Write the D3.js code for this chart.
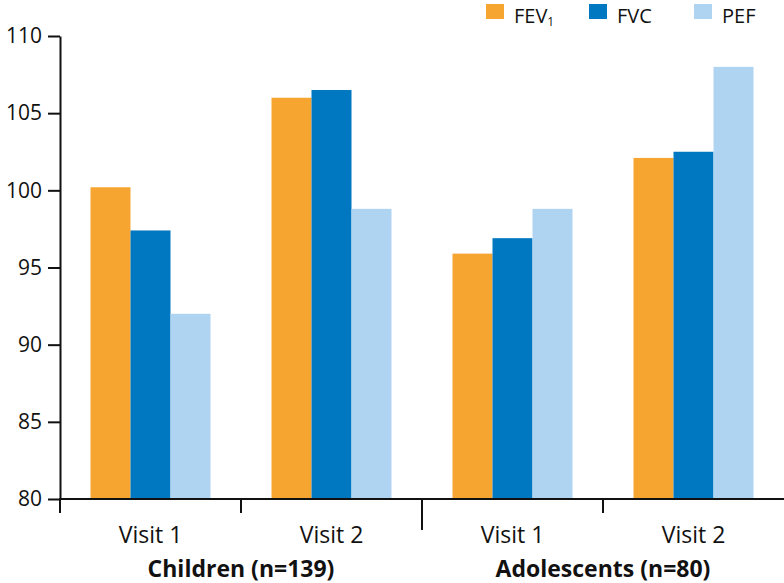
<!DOCTYPE html>
<html><head><meta charset="utf-8">
<script src="https://cdn.jsdelivr.net/npm/d3@7"></script>
<style>body{margin:0;background:#fff}svg{display:block}text{font-family:"Open Sans",sans-serif;fill:#111}</style>
</head><body><svg id="c" width="784" height="583"></svg>
<script>
const groups = ["Children (n=139)", "Adolescents (n=80)"];
const visits = ["Visit 1", "Visit 2"];
const categories = ["Children|Visit 1", "Children|Visit 2", "Adolescents|Visit 1", "Adolescents|Visit 2"];
const series = ["FEV1", "FVC", "PEF"];
const fev1 = [100.2, 106.0, 95.9, 102.1];
const fvc = [97.4, 106.5, 96.9, 102.5];
const pef = [92.0, 98.8, 98.8, 108.0];
const yTicks = [80, 85, 90, 95, 100, 105, 110];
const colors = ["#F7A531", "#0077C1", "#AFD4F1"];

const svg = d3.select("#c");
const m = {l: 60, r: 784, t: 36, b: 499};
const x0 = d3.scaleBand().domain(categories).range([m.l, m.r]).paddingInner(0.337).paddingOuter(0.1685);
const x1 = d3.scaleBand().domain(series).range([0, x0.bandwidth()]);
const y = d3.scaleLinear().domain([80, 110]).range([m.b, m.t]);
const vals = [fev1, fvc, pef];

categories.forEach((c, i) => {
  const g = svg.append("g").attr("transform", `translate(${x0(c)},0)`);
  series.forEach((s, j) => {
    g.append("rect").attr("x", x1(s)).attr("width", x1.bandwidth())
      .attr("y", y(vals[j][i])).attr("height", y(80) - y(vals[j][i])).attr("fill", colors[j]);
  });
});

// y axis
const ya = svg.append("g").attr("transform", `translate(${m.l},0)`)
  .call(d3.axisLeft(y).tickValues(yTicks).tickSize(12).tickPadding(6).tickSizeOuter(0));
ya.select(".domain").attr("stroke", "#111").attr("stroke-width", 2);
ya.selectAll(".tick line").attr("stroke", "#111").attr("stroke-width", 2);
ya.selectAll(".tick text").style("font-size", "21px").style("font-family", "Open Sans").attr("fill", "#111");

// x axis
const step = x0.step();
const xa = svg.append("g");
xa.append("line").attr("x1", m.l - 1).attr("x2", m.r).attr("y1", m.b).attr("y2", m.b).attr("stroke", "#111").attr("stroke-width", 2);
const bounds = d3.range(categories.length).map(i => m.l + i * step);
bounds.forEach((bx, i) => {
  xa.append("line").attr("x1", bx).attr("x2", bx).attr("y1", m.b).attr("y2", m.b + (i === 2 ? 31 : 14))
    .attr("stroke", "#111").attr("stroke-width", 2);
});
categories.forEach((c, i) => {
  xa.append("text").attr("x", x0(c) + x0.bandwidth() / 2).attr("y", 543)
    .attr("text-anchor", "middle").style("font-size", "23px").text(visits[i % 2]);
});
groups.forEach((gname, k) => {
  xa.append("text").attr("x", m.l + step * (2 * k + 1)).attr("y", 577)
    .attr("text-anchor", "middle").style("font-size", "23px").style("font-weight", "bold").text(gname);
});

// legend
const legX = [486, 589, 694];
series.forEach((s, j) => {
  svg.append("rect").attr("x", legX[j]).attr("y", 4).attr("width", 18).attr("height", 15).attr("fill", colors[j]);
  const t = svg.append("text").attr("x", legX[j] + 28).attr("y", 23).style("font-size", "20px");
  if (s === "FEV1") {
    t.append("tspan").text("FEV");
    t.append("tspan").attr("dy", 3).style("font-size", "12px").text("1");
  } else t.text(s);
});
</script></body></html>
